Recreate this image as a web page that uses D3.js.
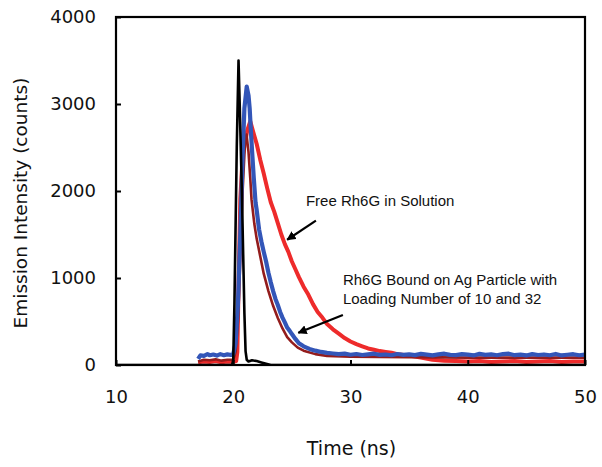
<!DOCTYPE html>
<html>
<head>
<meta charset="utf-8">
<script src="https://cdn.jsdelivr.net/npm/d3@7"></script>
<style>
  body { margin: 0; background: #fff; }
  svg text { fill: #111; }
</style>
</head>
<body>
<div id="wrap"></div>
<script>
var w = 602;
var h = 467;

// time axis (ns) and intensity axis (counts)
var xTicks = [10, 20, 30, 40, 50];
var yTicks = [0, 1000, 2000, 3000, 4000];

// instrument response (black)
var irfT = [10, 19.9, 20.0, 20.1, 20.2, 20.3, 20.45, 20.55, 20.65, 20.75, 20.85, 20.95, 21.05, 21.15, 21.3, 21.6, 22.0, 22.4, 22.8, 23.2, 50];
var irfV = [0, 0, 60, 700, 1600, 2500, 3500, 3000, 2450, 1900, 1250, 600, 160, 60, 40, 55, 45, 30, 15, 0, 0];

// Rh6G bound, loading 32 (blue)
var blueT = [17.0, 17.2, 17.5, 17.8, 18.0, 18.3, 18.6, 18.9, 19.2, 19.5, 19.8, 20.0, 20.2, 20.4, 20.6, 20.8, 20.95, 21.15, 21.3, 21.4, 21.5, 21.6, 21.75, 21.9, 22.0, 22.2, 22.4, 22.6, 22.8, 23.0, 23.2, 23.4, 23.6, 23.8, 24.0, 24.2, 24.4, 24.6, 24.8, 25.0, 25.3, 25.6, 26.0, 26.5, 27.0, 27.5, 28.0, 28.5, 29.0, 29.5, 30.0, 30.5, 31.0, 31.5, 32.0, 32.5, 33.0, 33.5, 34.0, 34.5, 35.0, 35.5, 36.0, 36.5, 37.0, 37.5, 38.0, 38.5, 39.0, 39.5, 40.0, 40.5, 41.0, 41.5, 42.0, 42.5, 43.0, 43.5, 44.0, 44.5, 45.0, 45.5, 46.0, 46.5, 47.0, 47.5, 48.0, 48.5, 49.0, 49.5, 50.0];
var blueV = [70, 110, 105, 125, 112, 120, 108, 125, 112, 122, 115, 125, 250, 700, 1500, 2400, 2950, 3200, 3100, 2950, 2700, 2470, 2150, 1870, 1780, 1560, 1420, 1300, 1190, 1060, 950, 850, 760, 690, 610, 545, 490, 430, 395, 355, 300, 250, 215, 185, 165, 150, 140, 132, 125, 130, 118, 126, 115, 122, 130, 116, 121, 112, 126, 117, 123, 113, 128, 119, 110, 122, 130, 116, 114, 125, 119, 110, 128, 116, 122, 112, 126, 130, 113, 119, 110, 125, 115, 121, 112, 127, 110, 118, 124, 112, 120];

// Rh6G bound, loading 10 (dark red)
var brownT = [17.0, 17.5, 18.0, 18.5, 19.0, 19.5, 20.0, 20.2, 20.4, 20.6, 20.8, 21.0, 21.13, 21.3, 21.45, 21.56, 21.8, 22.0, 22.3, 22.6, 23.0, 23.4, 23.8, 24.2, 24.6, 25.0, 25.5, 26.0, 27.0, 28.0, 30.0, 35.0, 40.0, 45.0, 50.0];
var brownV = [40, 60, 55, 65, 50, 60, 60, 150, 500, 1200, 2000, 2550, 2650, 2450, 2150, 1900, 1620, 1450, 1250, 1050, 850, 680, 540, 420, 320, 260, 200, 165, 125, 105, 95, 90, 85, 85, 85];

// free Rh6G in solution (red)
var redT = [17.0, 17.5, 18.0, 18.5, 19.0, 19.5, 20.0, 20.25, 20.35, 20.45, 20.6, 20.8, 21.0, 21.2, 21.45, 21.7, 22.0, 22.3, 22.6, 22.9, 23.2, 23.5, 23.8, 24.1, 24.4, 24.7, 25.0, 25.3, 25.6, 26.0, 26.4, 26.8, 27.2, 27.6, 28.0, 28.5, 29.0, 29.5, 30.0, 30.5, 31.0, 31.5, 32.0, 32.5, 33.0, 33.5, 34.0, 35.0, 36.0, 37.0, 38.0, 39.0, 40.0, 41.0, 42.0, 43.0, 44.0, 45.0, 46.0, 47.0, 48.0, 49.0, 50.0];
var redV = [30, 40, 35, 45, 30, 40, 35, 45, 150, 900, 1900, 2400, 2550, 2700, 2800, 2680, 2540, 2360, 2200, 2030, 1870, 1760, 1630, 1500, 1390, 1300, 1190, 1100, 1010, 900, 810, 700, 610, 545, 470, 410, 360, 310, 270, 240, 215, 190, 175, 160, 150, 140, 125, 110, 85, 60, 50, 45, 40, 45, 35, 40, 45, 35, 40, 45, 35, 40, 40];

// annotations, in data units
var notes = [
  { lines: ["Free Rh6G in Solution"], t: 26.2, v: 1830 },
  { lines: ["Rh6G Bound on Ag Particle with", "Loading Number of 10 and 32"], t: 29.35, v: 920 }
];
var arrows = [
  { t1: 27.05, v1: 1660, t2: 24.6, v2: 1440 },
  { t1: 29.35, v1: 575, t2: 25.55, v2: 370 }
];

var x = d3.scaleLinear().domain([10, 50]).range([116, 585]);
var y = d3.scaleLinear().domain([0, 4000]).range([365, 17]);

var svg = d3.select("#wrap").append("svg").attr("width", w).attr("height", h);

svg.append("defs").append("marker")
  .attr("id", "head")
  .attr("viewBox", "0 0 10 10")
  .attr("refX", 9).attr("refY", 5)
  .attr("markerWidth", 4.2).attr("markerHeight", 4.2)
  .attr("orient", "auto")
  .append("path").attr("d", "M0,0 L10,5 L0,10 z").attr("fill", "#000");

function zip(ts, vs) {
  return ts.map(function(t, i) { return [t, vs[i]]; });
}

var line = d3.line()
  .x(function(d) { return x(d[0]); })
  .y(function(d) { return y(d[1]); });

var series = [
  { data: zip(redT, redV), color: "#ee2b2b", width: 4 },
  { data: zip(brownT, brownV), color: "#931c1c", width: 2.6 },
  { data: zip(blueT, blueV), color: "#3356b8", width: 4.2 },
  { data: zip(irfT, irfV), color: "#000", width: 2.6 }
];

var plot = svg.append("g");
plot.append("clipPath").attr("id", "clip").append("rect")
  .attr("x", x(10)).attr("y", y(4000))
  .attr("width", x(50) - x(10)).attr("height", y(0) - y(4000));

plot.selectAll("path.series").data(series).enter().append("path")
  .attr("class", "series")
  .attr("clip-path", "url(#clip)")
  .attr("d", function(d) { return line(d.data); })
  .attr("fill", "none")
  .attr("stroke", function(d) { return d.color; })
  .attr("stroke-width", function(d) { return d.width; })
  .attr("stroke-linejoin", "round");

// axes with inward ticks
var xAxis = svg.append("g").attr("transform", "translate(0," + y(0) + ")")
  .call(d3.axisBottom(x).tickValues(xTicks).tickSize(-5).tickFormat(d3.format("d")).tickPadding(25));
var yAxis = svg.append("g").attr("transform", "translate(" + x(10) + ",0)")
  .call(d3.axisLeft(y).tickValues(yTicks).tickSize(-5).tickFormat(d3.format("d")).tickPadding(20));

[xAxis, yAxis].forEach(function(g) {
  g.select(".domain").remove();
  g.selectAll("line").attr("stroke", "#000").attr("stroke-width", 2);
  g.selectAll("text")
    .attr("font-family", "DejaVu Sans, Verdana, sans-serif")
    .attr("font-size", 18)
    .attr("fill", "#111");
});

// frame
svg.append("rect")
  .attr("x", x(10)).attr("y", y(4000))
  .attr("width", x(50) - x(10)).attr("height", y(0) - y(4000))
  .attr("fill", "none").attr("stroke", "#000").attr("stroke-width", 2.2);

svg.append("text")
  .attr("x", (x(10) + x(50)) / 2 + 1).attr("y", 455)
  .attr("text-anchor", "middle")
  .attr("font-family", "DejaVu Sans, Verdana, sans-serif")
  .attr("font-size", 19)
  .text("Time (ns)");

svg.append("text")
  .attr("transform", "translate(27," + (y(2000) + 12) + ") rotate(-90)")
  .attr("text-anchor", "middle")
  .attr("font-family", "DejaVu Sans, Verdana, sans-serif")
  .attr("font-size", 18.5)
  .text("Emission Intensity (counts)");

// annotation text and arrows
notes.forEach(function(n) {
  var t = svg.append("text")
    .attr("font-family", "Liberation Sans, Arial, sans-serif")
    .attr("font-size", 15)
    .attr("fill", "#111");
  n.lines.forEach(function(s, i) {
    t.append("tspan").attr("x", x(n.t)).attr("y", y(n.v) + i * 19).text(s);
  });
});

svg.selectAll("line.arrow").data(arrows).enter().append("line")
  .attr("class", "arrow")
  .attr("x1", function(d) { return x(d.t1); })
  .attr("y1", function(d) { return y(d.v1); })
  .attr("x2", function(d) { return x(d.t2); })
  .attr("y2", function(d) { return y(d.v2); })
  .attr("stroke", "#000").attr("stroke-width", 2.2)
  .attr("marker-end", "url(#head)");
</script>
</body>
</html>
